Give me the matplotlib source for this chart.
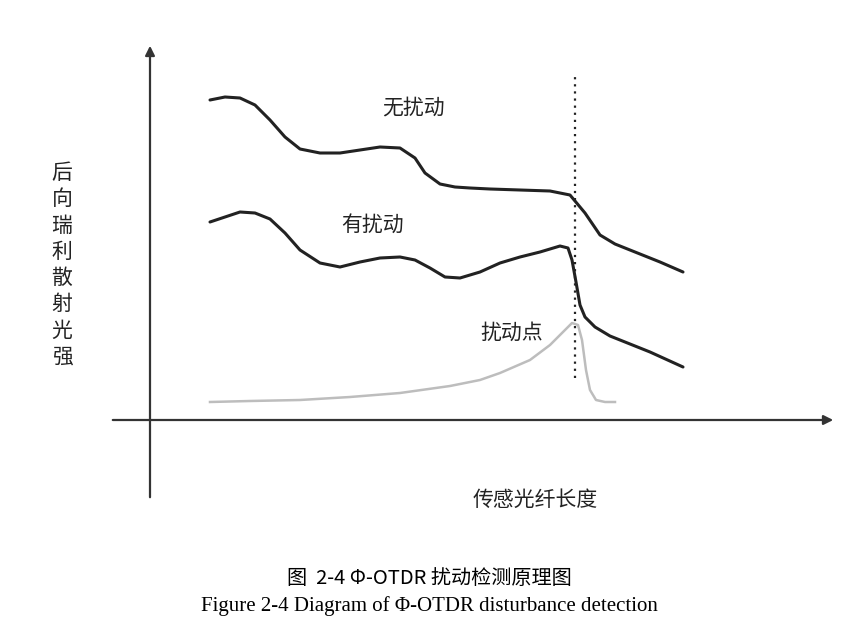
import matplotlib
matplotlib.use("Agg")
import matplotlib.pyplot as plt

plt.rcParams['font.family'] = ['Noto Sans CJK SC', 'DejaVu Sans']

# fiber distance (arbitrary units) and backscatter intensity (arbitrary units)
dist_undisturbed = [60, 75, 90, 105, 120, 135, 150, 170, 190, 210, 230, 250, 265, 275, 290, 305, 320, 340, 370, 400, 420, 435, 450, 465, 480, 510, 533]
int_undisturbed = [320, 323, 322, 315, 300, 283, 271, 267, 267, 270, 273, 272, 262, 247, 236, 233, 232, 231, 230, 229, 225, 207, 185, 176, 170, 158, 148]

dist_disturbed = [60, 75, 90, 105, 120, 135, 150, 170, 190, 210, 230, 250, 265, 280, 295, 310, 330, 350, 370, 390, 410, 418, 422, 426, 430, 435, 445, 460, 480, 500, 533]
int_disturbed = [198, 203, 208, 207, 201, 187, 170, 157, 153, 158, 162, 163, 160, 152, 143, 142, 148, 157, 163, 168, 174, 172, 160, 138, 115, 103, 93, 84, 76, 68, 53]

dist_peak = [60, 100, 150, 200, 250, 300, 330, 350, 380, 400, 415, 422, 428, 432, 436, 440, 446, 455, 465]
int_peak = [18, 19, 20, 23, 27, 34, 40, 47, 60, 75, 90, 97, 95, 80, 50, 30, 20, 18, 18]

disturb_pos = 425

fig = plt.figure(figsize=(8.59, 6.41), dpi=100)
ax = fig.add_axes([0, 0, 1, 1])
ax.set_xlim(-150, 709)
ax.set_ylim(-221, 420)
ax.axis('off')

ax.annotate('', xy=(686, 0), xytext=(-40, 0),
            arrowprops=dict(arrowstyle='-|>', color='#333333', lw=1.6, mutation_scale=14))
ax.annotate('', xy=(0, 377), xytext=(0, -80),
            arrowprops=dict(arrowstyle='-|>', color='#333333', lw=1.6, mutation_scale=14))

ax.plot(dist_undisturbed, int_undisturbed, color='#222222', lw=2.2, solid_capstyle='round')
ax.plot(dist_disturbed, int_disturbed, color='#222222', lw=2.2, solid_capstyle='round')
ax.plot(dist_peak, int_peak, color='#bdbdbd', lw=1.8)
ax.plot([disturb_pos, disturb_pos], [42, 345], color='#222222', lw=1.6, ls=(0, (1, 2.2)))

ax.text(263, 312, '无扰动', fontsize=15, ha='center', va='center', color='#222222')
ax.text(223, 195, '有扰动', fontsize=15, ha='center', va='center', color='#222222')
ax.text(362, 87, '扰动点', fontsize=15, ha='center', va='center', color='#222222')
ax.text(-88, 155, '\n'.join('后向瑞利散射光强'), fontsize=15, ha='center', va='center',
        color='#222222', linespacing=1.25)
ax.text(385, -80, '传感光纤长度', fontsize=15, ha='center', va='center', color='#222222')

ax.text(279, -158, '图  2-4 Φ-OTDR 扰动检测原理图', fontsize=14.5, ha='center', va='center',
        color='black', fontweight='medium')
ax.text(279, -186, 'Figure 2-4 Diagram of Φ-OTDR disturbance detection', fontsize=15,
        ha='center', va='center', color='black', family=['Liberation Serif', 'DejaVu Serif'])

fig.savefig('out.png', dpi=100)
